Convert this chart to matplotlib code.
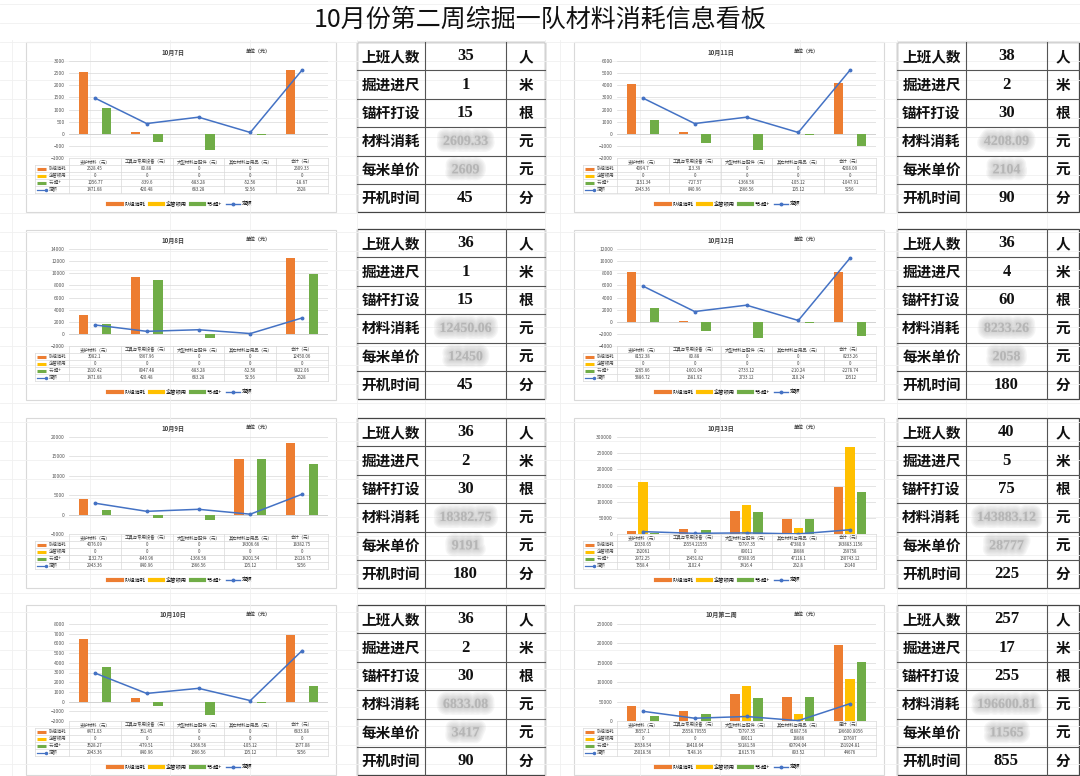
import matplotlib
matplotlib.use('Agg')
import matplotlib.pyplot as plt
import matplotlib.patheffects as pe
from matplotlib.lines import Line2D
from matplotlib.patches import Rectangle
import numpy as np

plt.rcParams['font.family'] = ['Noto Sans CJK SC', 'DejaVu Sans']

W, H = 1080, 776

# ---- chart data ----
categories = ['支护材料（元）', '工具与专用设备（元）', '大型材料与配件（元）', '其它材料与用品（元）', '合计（元）']
week_categories = ['支护材料（元）', '工具与专用设备（元）', '大型材料与配件（元）', '其它材料与用品（元）', '周计（元）']
series_names = ['队组消耗', '企管领用', '节-超+', '定额']
titles = ['10月7日', '10月8日', '10月9日', '10月10日', '10月11日', '10月12日', '10月13日', '10月第二周']

team_use = [
    [2528.45, 80.88, 0, 0, 2609.33],
    [3082.1, 9367.96, 0, 0, 12450.06],
    [4076.09, 0, 0, 14306.66, 18382.75],
    [6471.63, 361.45, 0, 0, 6833.08],
    [4094.7, 113.39, 0, 0, 4208.09],
    [8152.38, 80.88, 0, 0, 8233.26],
    [10330.65, 15554.21555, 70797.35, 47380.9, 143883.1156],
    [38557.1, 25558.79555, 70797.35, 61687.56, 196600.8056],
]
mgmt_use = [
    [0, 0, 0, 0, 0],
    [0, 0, 0, 0, 0],
    [0, 0, 0, 0, 0],
    [0, 0, 0, 0, 0],
    [0, 0, 0, 0, 0],
    [0, 0, 0, 0, 0],
    [162061, 0, 89011, 18686, 269758],
    [0, 0, 89011, 18686, 107697],
]
saving = [
    [1056.77, -339.6, -683.28, -52.56, -18.67],
    [1610.42, 8947.48, -683.28, -52.56, 9822.06],
    [1132.73, -840.96, -1366.56, 14201.54, 13126.75],
    [3528.27, -479.51, -1366.56, -105.12, 1577.08],
    [1151.34, -727.57, -1366.56, -105.12, -1047.91],
    [2265.66, -1601.04, -2733.12, -210.24, -2278.74],
    [2972.25, 13451.82, 67380.95, 47118.1, 130743.12],
    [13538.54, 18410.64, 59181.59, 60794.04, 151924.81],
]
quota = [
    [1471.68, 420.48, 683.28, 52.56, 2628],
    [1471.68, 420.48, 683.28, 52.56, 2628],
    [2943.36, 840.96, 1366.56, 105.12, 5256],
    [2943.36, 840.96, 1366.56, 105.12, 5256],
    [2943.36, 840.96, 1366.56, 105.12, 5256],
    [5886.72, 1681.92, 2733.12, 210.24, 10512],
    [7358.4, 2102.4, 3416.4, 262.8, 13140],
    [25018.56, 7148.16, 11615.76, 893.52, 44676],
]
y_ranges = [
    (-1000, 3000, 500),
    (-2000, 14000, 2000),
    (-5000, 20000, 5000),
    (-2000, 8000, 1000),
    (-2000, 6000, 1000),
    (-4000, 12000, 2000),
    (0, 300000, 50000),
    (0, 250000, 50000),
]

# ---- side table data ----
row_labels = ['上班人数', '掘进进尺', '锚杆打设', '材料消耗', '每米单价', '开机时间']
units = ['人', '米', '根', '元', '元', '分']
workers = [35, 36, 36, 36, 38, 36, 40, 257]
footage = [1, 1, 2, 2, 2, 4, 5, 17]
bolts = [15, 15, 30, 30, 30, 60, 75, 255]
material_cost = ['2609.33', '12450.06', '18382.75', '6833.08', '4208.09', '8233.26', '143883.12', '196600.81']
unit_price = ['2609', '12450', '9191', '3417', '2104', '2058', '28777', '11565']
run_minutes = [45, 45, 180, 90, 90, 180, 225, 855]

colors = ['#ED7D31', '#FFC000', '#70AD47', '#4472C4']

fig = plt.figure(figsize=(W / 100, H / 100), dpi=100)

bg = fig.add_axes([0, 0, 1, 1], zorder=-1)
bg.set_xlim(0, W)
bg.set_ylim(H, 0)
bg.axis('off')

# faint spreadsheet grid
for y in np.arange(4, H, 19):
    bg.plot([0, W], [y, y], color='#f0f0f0', lw=0.6)
for x in [12, 90, 170, 250, 357, 425, 506, 545, 560, 640, 720, 800, 897, 966, 1047]:
    bg.plot([x, x], [40, H], color='#f0f0f0', lw=0.6)

fig.text(0.5, 1 - 20 / H, '10月份第二周综掘一队材料消耗信息看板', fontsize=18,
         ha='center', va='center', color='#111111')

chart_x = [26, 574]
row_y = [42, 230, 418, 605]
tab_cols = [[357, 425, 506, 545], [897, 966, 1047, 1079]]
tab_top = [42, 229, 418, 605]
row_h = 28.4

# soft smudge used for the hidden (blurred) cost figures
blur_fx = [pe.Stroke(linewidth=w, foreground='#9a9a9a', alpha=0.09) for w in (10, 8, 6, 4, 2)]
blur_fx.append(pe.Normal())


def fmt(v):
    return '{:.10g}'.format(round(v, 5))


def px_axes(x, y, w, h):
    return fig.add_axes([x / W, 1 - (y + h) / H, w / W, h / H])


def draw_chart(i):
    col, row = divmod(i, 4)
    x0, y0 = chart_x[col], row_y[row]
    bg.add_patch(Rectangle((x0, y0), 310, 170, facecolor='white', edgecolor='#d9d9d9', lw=0.8))

    cats = week_categories if i == 7 else categories
    ax = px_axes(x0 + 43, y0 + 19, 259, 97)
    ax.set_facecolor('none')
    ymin, ymax, step = y_ranges[i]
    ax.set_xlim(-0.5, 4.5)
    ax.set_ylim(ymin, ymax)
    ax.set_yticks(np.arange(ymin, ymax + step / 2, step))
    ax.set_xticks([])
    ax.tick_params(axis='y', length=0, labelsize=3.6, labelcolor='#595959', pad=3)
    for s in ax.spines.values():
        s.set_visible(False)
    ax.grid(axis='y', color='#d9d9d9', lw=0.5)
    ax.set_axisbelow(True)
    ax.axhline(0, color='#d0d0d0', lw=0.6, zorder=1)

    x = np.arange(5)
    for k, data in enumerate([team_use[i], mgmt_use[i], saving[i]]):
        ax.bar(x + (k - 1) * 0.22, data, width=0.18, color=colors[k], zorder=2)
    ax.plot(x, quota[i], color=colors[3], lw=1.1, marker='o', ms=1.8, zorder=3)

    handles = [Line2D([], [], color=colors[k], lw=3) for k in range(3)]
    handles.append(Line2D([], [], color=colors[3], lw=1, marker='o', ms=1.8))
    ax.legend(handles, series_names, loc='center', bbox_to_anchor=(0.43, -0.47), ncol=4,
              frameon=False, fontsize=3.8, handlelength=2.6, columnspacing=0.8, handletextpad=0.4)

    fig.text((x0 + 147) / W, 1 - (y0 + 10) / H, titles[i], fontsize=4.4, weight='bold',
             ha='center', va='center', color='#404040')
    fig.text((x0 + 232) / W, 1 - (y0 + 10) / H, '单位（元）', fontsize=3.6, weight='bold',
             ha='center', va='center', color='#404040')

    # data table under the plot
    lab_w = 34 / 51.8
    xl = -0.5 - lab_w
    tax = px_axes(x0 + 9, y0 + 116, 293, 35)
    tax.set_xlim(xl, 4.5)
    tax.set_ylim(5, 0)
    tax.axis('off')
    gc = '#d9d9d9'
    tax.plot([-0.5, 4.5], [0, 0], color=gc, lw=0.5, clip_on=False)
    for r in range(1, 6):
        tax.plot([xl, 4.5], [r, r], color=gc, lw=0.5, clip_on=False)
    tax.plot([xl, xl], [1, 5], color=gc, lw=0.5, clip_on=False)
    for c in np.arange(-0.5, 4.6, 1):
        tax.plot([c, c], [0, 5], color=gc, lw=0.5, clip_on=False)
    for c, name in enumerate(cats):
        tax.text(c, 0.5, name, fontsize=3.2, ha='center', va='center', color='#404040')
    rows = [team_use[i], mgmt_use[i], saving[i], quota[i]]
    for r, vals in enumerate(rows):
        yc = r + 1.5
        if r < 3:
            tax.plot([xl + 0.04, xl + 0.22], [yc, yc], color=colors[r], lw=2.2, solid_capstyle='butt', clip_on=False)
        else:
            tax.plot([xl + 0.04, xl + 0.22], [yc, yc], color=colors[r], lw=0.9, marker='o', ms=1.5,
                     markevery=[1], clip_on=False)
        tax.text(xl + 0.26, yc, series_names[r], fontsize=3.2, ha='left', va='center', color='#404040')
        for c, v in enumerate(vals):
            tax.text(c, yc, fmt(v), fontsize=3.1, ha='center', va='center', color='#404040')


def draw_table(i):
    col, row = divmod(i, 4)
    xs = tab_cols[col]
    top = tab_top[row]
    bottom = top + 6 * row_h
    bg.add_patch(Rectangle((xs[0], top), xs[3] - xs[0], 6 * row_h, facecolor='white',
                           edgecolor='#444444', lw=0.9))
    for r in range(1, 6):
        bg.plot([xs[0], xs[3]], [top + r * row_h] * 2, color='#555555', lw=0.8)
    for x in xs[1:3]:
        bg.plot([x, x], [top, bottom], color='#555555', lw=0.8)
    values = [workers[i], footage[i], bolts[i], material_cost[i], unit_price[i], run_minutes[i]]
    for r in range(6):
        yc = top + (r + 0.5) * row_h
        bg.text((xs[0] + xs[1]) / 2, yc, row_labels[r], fontsize=10.5, weight='bold',
                ha='center', va='center', color='#111111')
        bg.text((xs[2] + xs[3]) / 2, yc, units[r], fontsize=10.5, weight='bold',
                ha='center', va='center', color='#111111')
        if r in (3, 4):
            bg.text((xs[1] + xs[2]) / 2, yc, str(values[r]), fontsize=10, weight='bold',
                    ha='center', va='center', color='#b0b0b0', alpha=0.7,
                    family=['Liberation Serif'], path_effects=blur_fx)
        else:
            bg.text((xs[1] + xs[2]) / 2, yc, str(values[r]), fontsize=12, weight='bold',
                    ha='center', va='center', color='#111111', family=['Liberation Serif'])


for i in range(8):
    draw_chart(i)
    draw_table(i)

fig.savefig('out.png', dpi=100, facecolor='white')
